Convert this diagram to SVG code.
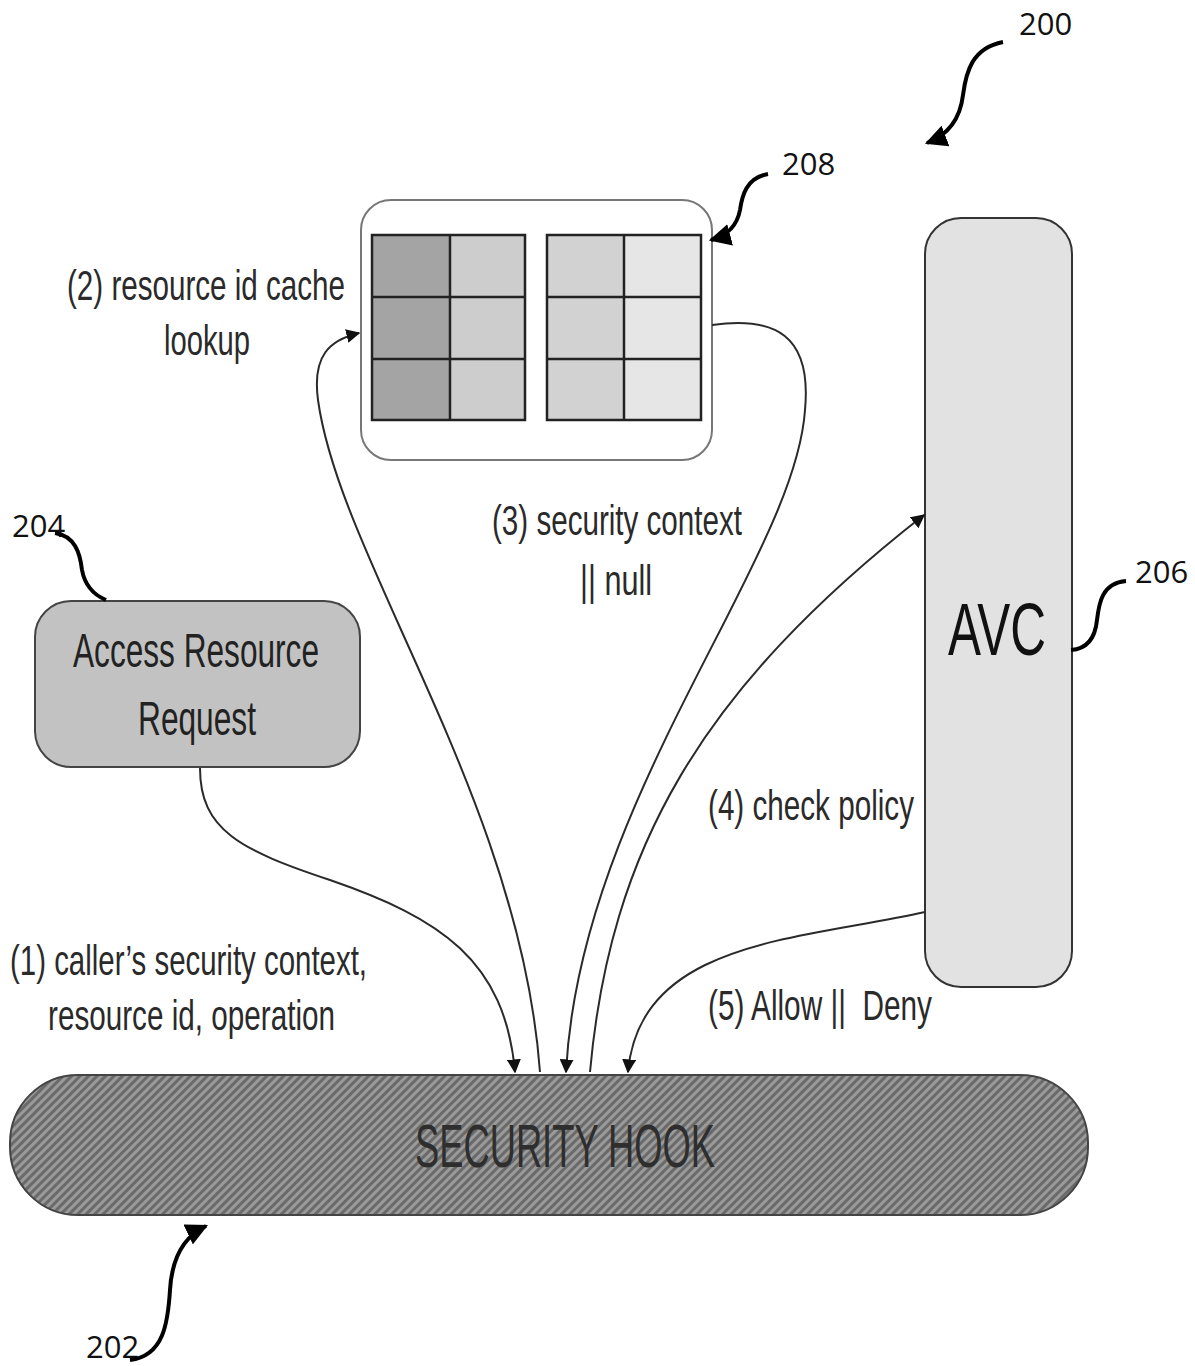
<svg xmlns="http://www.w3.org/2000/svg" width="1195" height="1366" viewBox="0 0 1195 1366">
  <style>
    .lbl { font-family: "Liberation Sans", Arial, sans-serif; font-size: 42px; fill: #2a2a2a; }
    .big { font-family: "Liberation Sans", Arial, sans-serif; }
    .ref { font-family: "Open Sans", "Noto Sans", sans-serif; font-size: 31px; fill: #111; }
    .conn { fill: none; stroke: #2a2a2a; stroke-width: 2; }
    .lead { fill: none; stroke: #000; stroke-width: 4; }
    .grid { stroke: #222; stroke-width: 2.5; }
  </style>
  <defs>
    <marker id="arr" viewBox="0 0 10 10" refX="9" refY="5" markerWidth="7" markerHeight="7" markerUnits="strokeWidth" orient="auto">
      <path d="M0,0 L10,5 L0,10 z" fill="#111"/>
    </marker>
    <marker id="arrL" viewBox="0 0 10 10" refX="9" refY="5" markerWidth="5.5" markerHeight="5.5" markerUnits="strokeWidth" orient="auto">
      <path d="M0,0 L10,5 L0,10 z" fill="#000"/>
    </marker>
    <pattern id="hatch" width="6" height="6" patternUnits="userSpaceOnUse" patternTransform="rotate(45)">
      <rect width="6" height="6" fill="#9a9a9a"/>
      <rect width="3" height="6" fill="#6a6a6a"/>
    </pattern>
  </defs>

  <rect width="1195" height="1366" fill="#fff"/>

  <!-- security hook bar -->
  <g id="security-hook">
    <rect x="10" y="1075" width="1078" height="140" rx="68" fill="url(#hatch)" stroke="#444" stroke-width="2"/>
    <text class="big" x="565" y="1167" text-anchor="middle" style="font-size:62px" textLength="300" lengthAdjust="spacingAndGlyphs" fill="#2e2e2e">SECURITY HOOK</text>
  </g>

  <!-- resource id cache -->
  <g id="cache">
    <rect x="361" y="200" width="351" height="260" rx="30" fill="#fff" stroke="#777" stroke-width="2"/>
    <rect x="372" y="235" width="78" height="185" fill="#a4a4a4"/>
    <rect x="450" y="235" width="75" height="185" fill="#cdcdcd"/>
    <rect x="547" y="235" width="77" height="185" fill="#d2d2d2"/>
    <rect x="624" y="235" width="77" height="185" fill="#e6e6e6"/>
    <g class="grid" fill="none">
      <rect x="372" y="235" width="153" height="185"/>
      <line x1="450" y1="235" x2="450" y2="420"/>
      <line x1="372" y1="297" x2="525" y2="297"/>
      <line x1="372" y1="359" x2="525" y2="359"/>
      <rect x="547" y="235" width="154" height="185"/>
      <line x1="624" y1="235" x2="624" y2="420"/>
      <line x1="547" y1="297" x2="701" y2="297"/>
      <line x1="547" y1="359" x2="701" y2="359"/>
    </g>
  </g>

  <!-- access vector cache -->
  <g id="avc">
    <rect x="925" y="218" width="147" height="769" rx="36" fill="#e2e2e2" stroke="#333" stroke-width="2"/>
    <text class="big" x="997" y="655" text-anchor="middle" style="font-size:74px" textLength="98" lengthAdjust="spacingAndGlyphs" fill="#111">AVC</text>
  </g>

  <!-- incoming request -->
  <g id="request">
    <rect x="35" y="601" width="325" height="166" rx="36" fill="#c2c2c2" stroke="#444" stroke-width="2"/>
    <text class="big" x="196" y="667" text-anchor="middle" style="font-size:48px" textLength="246" lengthAdjust="spacingAndGlyphs" fill="#222">Access Resource</text>
    <text class="big" x="197" y="735" text-anchor="middle" style="font-size:48px" textLength="118" lengthAdjust="spacingAndGlyphs" fill="#222">Request</text>
  </g>

  <!-- flows between components -->
  <g id="connectors">
    <path class="conn" d="M200,768 C200,830 240,850 330,880 C440,918 505,960 515,1072" marker-end="url(#arr)"/>
    <path class="conn" d="M540,1072 C520,800 340,560 318,400 C312,355 330,340 359,333" marker-end="url(#arr)"/>
    <path class="conn" d="M712,325 C775,316 812,335 805,410 C795,560 580,800 566,1072" marker-end="url(#arr)"/>
    <path class="conn" d="M590,1072 C610,850 700,690 924,515" marker-end="url(#arr)"/>
    <path class="conn" d="M925,912 C800,940 640,940 628,1072" marker-end="url(#arr)"/>
  </g>

  <!-- step labels -->
  <g id="labels">
    <text class="lbl" x="67" y="300" textLength="278" lengthAdjust="spacingAndGlyphs">(2) resource id cache</text>
    <text class="lbl" x="164" y="355" textLength="86" lengthAdjust="spacingAndGlyphs">lookup</text>
    <text class="lbl" x="492" y="535" textLength="250" lengthAdjust="spacingAndGlyphs">(3) security context</text>
    <text class="lbl" x="580" y="595" textLength="72" lengthAdjust="spacingAndGlyphs">|| null</text>
    <text class="lbl" x="708" y="820" textLength="206" lengthAdjust="spacingAndGlyphs">(4) check policy</text>
    <text class="lbl" x="10" y="975" textLength="357" lengthAdjust="spacingAndGlyphs">(1) caller’s security context,</text>
    <text class="lbl" x="48" y="1030" textLength="287" lengthAdjust="spacingAndGlyphs">resource id, operation</text>
    <text class="lbl" x="708" y="1020" textLength="224" lengthAdjust="spacingAndGlyphs" xml:space="preserve">(5) Allow ||  Deny</text>
  </g>

  <!-- reference numerals with leader lines -->
  <g id="refs">
    <text class="ref" x="1019" y="35">200</text>
    <path class="lead" d="M1003,42 C972,48 966,72 963,95 C960,120 948,135 927,143" marker-end="url(#arrL)"/>
    <text class="ref" x="782" y="175">208</text>
    <path class="lead" d="M768,174 C746,178 742,196 740,210 C737,226 726,236 711,240" marker-end="url(#arrL)"/>
    <text class="ref" x="12" y="537">204</text>
    <path class="lead" d="M55,533 C75,536 80,553 82,570 C85,586 94,595 106,600"/>
    <text class="ref" x="1135" y="583">206</text>
    <path class="lead" d="M1126,581 C1102,583 1099,603 1097,620 C1095,640 1086,649 1071,650"/>
    <text class="ref" x="86" y="1358">202</text>
    <path class="lead" d="M130,1360 C164,1356 168,1322 170,1290 C172,1256 185,1236 206,1226" marker-end="url(#arrL)"/>
  </g>
</svg>
